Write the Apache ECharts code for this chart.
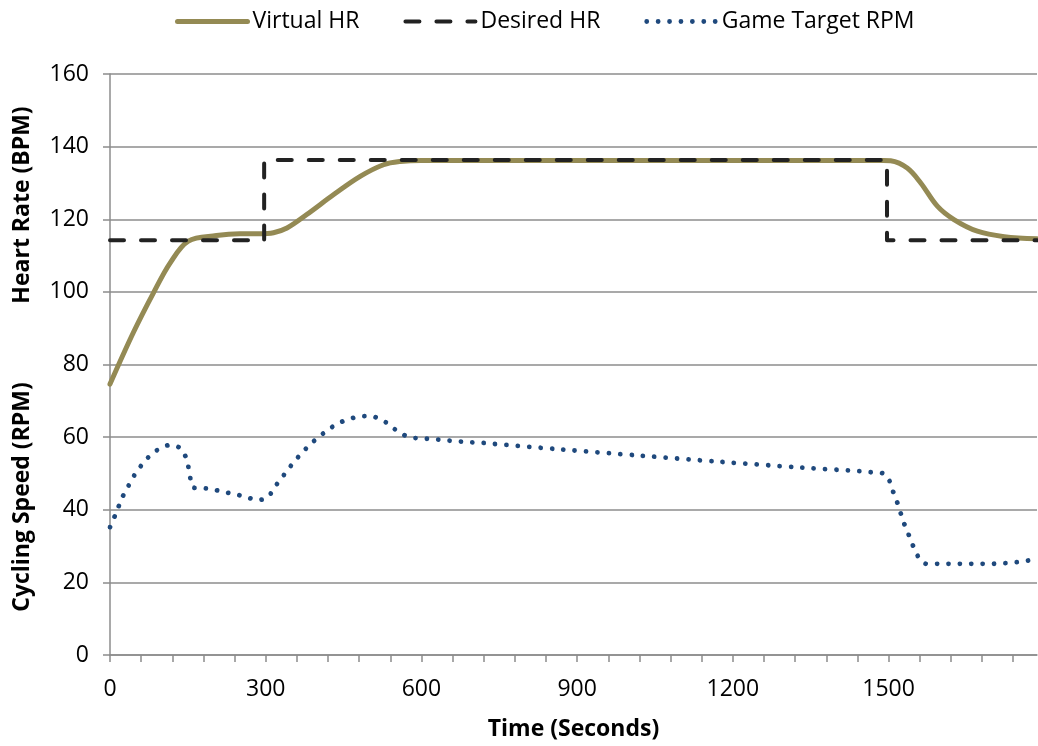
<!DOCTYPE html>
<html>
<head>
<meta charset="utf-8">
<script src="https://cdn.jsdelivr.net/npm/echarts@6/dist/echarts.min.js"></script>
<style>
html,body{margin:0;padding:0;background:#fff;}
#chart{width:1038px;height:746px;}
</style>
</head>
<body>
<div id="chart"></div>
<script>
// ---- data ----
const seriesNames = ['Virtual HR', 'Desired HR', 'Game Target RPM'];

const virtualT = [0, 45, 84, 116, 151, 205, 250, 289, 315, 341, 379, 431, 482, 527, 559, 600, 800, 1000, 1200, 1400, 1490, 1504, 1536, 1562, 1594, 1626, 1671, 1723, 1786];
const virtualHR = [74.6, 88.8, 99.8, 108, 114, 115.5, 116, 116, 116.3, 117.6, 121.3, 126.8, 131.8, 135, 135.9, 136.2, 136.2, 136.2, 136.2, 136.2, 136.2, 136.1, 134.1, 130, 123.6, 119.9, 116.7, 115.2, 114.6];

const desiredT = [0, 297, 297, 1497, 1497, 1786];
const desiredHR = [114.2, 114.2, 136.3, 136.3, 114.2, 114.2];

const rpmT = [0, 10, 18, 27, 38, 49, 62, 77, 95, 115, 135, 147, 152, 156, 161, 183, 201, 223, 244, 264, 286, 304, 316, 330, 343, 357, 372, 388, 401, 419, 437, 457, 478, 501, 522, 540, 558, 578, 600, 622, 645, 667, 690, 712, 734, 870, 1022, 1176, 1334, 1446, 1468, 1490, 1502, 1509, 1517, 1524, 1531, 1540, 1548, 1558, 1573, 1598, 1624, 1646, 1670, 1692, 1715, 1737, 1759, 1780, 1786];
const rpm = [35.2, 38.5, 41.4, 44.4, 47.2, 50, 52.5, 54.9, 56.8, 57.8, 57, 54.2, 51.1, 47.9, 46.1, 45.9, 45.5, 44.8, 44.2, 43.4, 42.7, 43.4, 46, 48.6, 51.1, 53.6, 56, 58.3, 59.9, 61.9, 63.6, 64.8, 65.6, 65.8, 64.9, 63.2, 61.2, 60, 59.6, 59.5, 59.1, 58.9, 58.6, 58.5, 58.2, 56.6, 54.9, 53.2, 51.6, 50.6, 50.3, 50.0, 47.9, 44.9, 41.9, 38.8, 35.8, 32.7, 29.8, 26.9, 25.1, 25.1, 25.1, 25.1, 25.1, 25.1, 25.2, 25.4, 25.8, 26.3, 26.5];

const xMin = 0, xMax = 1786;
const xTickValues = [0, 60, 120, 180, 240, 300, 360, 420, 480, 540, 600, 660, 720, 780, 840, 900, 960, 1020, 1080, 1140, 1200, 1260, 1320, 1380, 1440, 1500, 1560, 1620, 1680, 1740];
const xLabelValues = [0, 300, 600, 900, 1200, 1500];
const yMin = 0, yMax = 160, yInterval = 20;

const xTitle = 'Time (Seconds)';
const yTitleTop = 'Heart Rate (BPM)';
const yTitleBottom = 'Cycling Speed (RPM)';

// ---- chart ----
const FONT = '"Open Sans", "Noto Sans", sans-serif';
const AXIS_GRAY = '#8c8c8c';
const OLIVE = '#948A54', DARK = '#222222', BLUE = '#1F497D';
const zip = (xs, ys) => xs.map((x, i) => [x, ys[i]]);

const chart = echarts.init(document.getElementById('chart'), null, {renderer: 'canvas'});
chart.setOption({
  animation: false,
  backgroundColor: '#fff',
  textStyle: {fontFamily: FONT},
  grid: {left: 110, right: 1, top: 74, bottom: 89, containLabel: false},
  legend: {
    top: 5, left: 170,
    itemWidth: 70, itemHeight: 14, itemGap: 44,
    itemStyle: {opacity: 0},
    textStyle: {fontFamily: FONT, fontSize: 23, color: '#000'},
    data: [
      {name: seriesNames[0], lineStyle: {width: 5, color: OLIVE, cap: 'round'}},
      {name: seriesNames[1], lineStyle: {width: 4, color: DARK, type: [14, 17], cap: 'round'}},
      {name: seriesNames[2], lineStyle: {width: 4.8, color: BLUE, type: [0.01, 11.4], cap: 'round'}}
    ]
  },
  xAxis: {
    type: 'value', min: xMin, max: xMax,
    axisLine: {show: true, lineStyle: {color: AXIS_GRAY, width: 1.5}},
    axisTick: {show: true, length: 7, customValues: xTickValues, lineStyle: {color: AXIS_GRAY, width: 1.5}},
    axisLabel: {customValues: xLabelValues, margin: 23, fontFamily: FONT, fontSize: 23, color: '#000',
                formatter: v => String(v)},
    splitLine: {show: false},
    name: xTitle, nameLocation: 'middle', nameGap: 63,
    nameTextStyle: {fontFamily: FONT, fontSize: 23, fontWeight: 'bold', color: '#000'}
  },
  yAxis: {
    type: 'value', min: yMin, max: yMax, interval: yInterval,
    axisLine: {show: true, lineStyle: {color: AXIS_GRAY, width: 1.5}},
    axisTick: {show: true, length: 7, lineStyle: {color: AXIS_GRAY, width: 1.5}},
    axisLabel: {margin: 21, fontFamily: FONT, fontSize: 23, color: '#000'},
    splitLine: {show: true, lineStyle: {color: AXIS_GRAY, width: 1.5}}
  },
  graphic: [
    {type: 'text', x: 22, y: 205, rotation: Math.PI / 2,
     style: {text: yTitleTop, font: 'bold 23px ' + FONT, fill: '#000', textAlign: 'center', textVerticalAlign: 'middle'}},
    {type: 'text', x: 22, y: 497, rotation: Math.PI / 2,
     style: {text: yTitleBottom, font: 'bold 23px ' + FONT, fill: '#000', textAlign: 'center', textVerticalAlign: 'middle'}}
  ],
  series: [
    {
      name: seriesNames[0], type: 'line', data: zip(virtualT, virtualHR),
      symbol: 'none', smooth: 0.35, z: 2,
      lineStyle: {color: OLIVE, width: 5, cap: 'round', join: 'round'},
      itemStyle: {color: OLIVE}
    },
    {
      name: seriesNames[1], type: 'line', data: zip(desiredT, desiredHR),
      symbol: 'none', z: 3,
      lineStyle: {color: DARK, width: 4, type: [14, 17], cap: 'round', join: 'round'},
      itemStyle: {color: DARK}
    },
    {
      name: seriesNames[2], type: 'line', data: zip(rpmT, rpm),
      symbol: 'none', smooth: 0.3, z: 2,
      lineStyle: {color: BLUE, width: 4.8, type: [0.01, 11.4], cap: 'round'},
      itemStyle: {color: BLUE}
    }
  ]
});
</script>
</body>
</html>
